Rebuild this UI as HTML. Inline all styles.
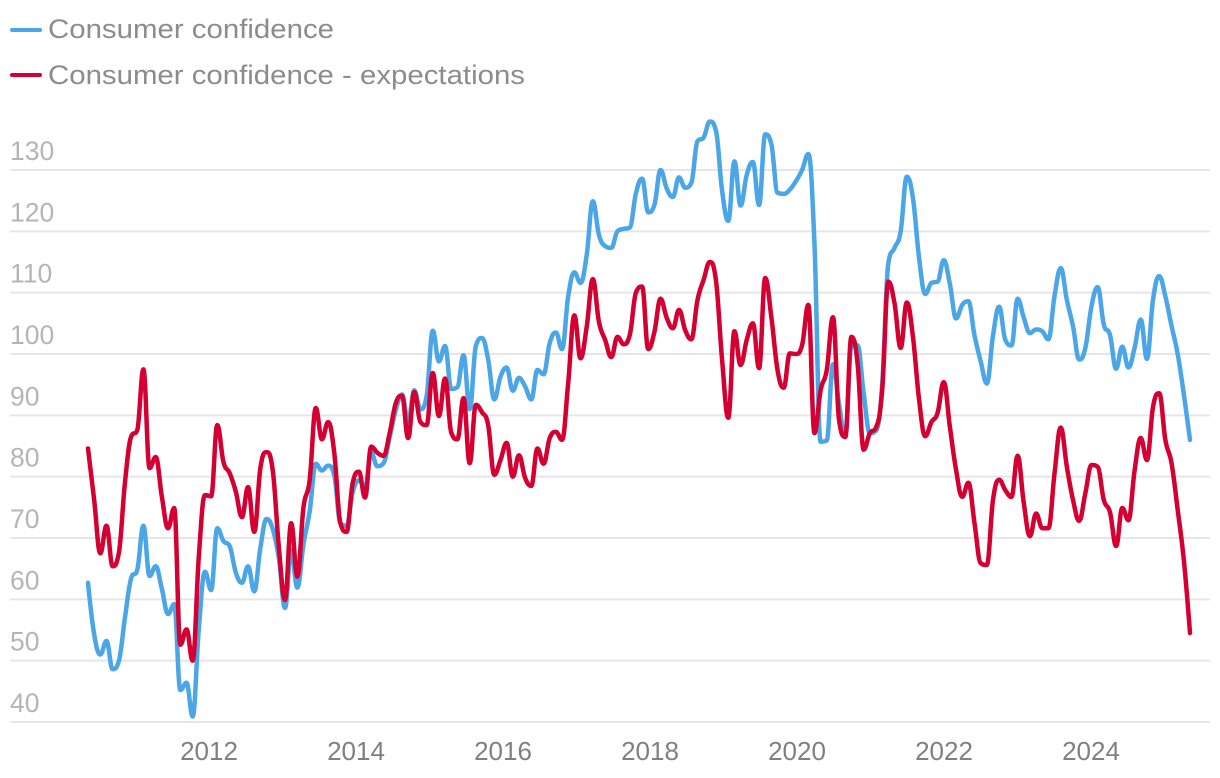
<!DOCTYPE html>
<html lang="en">
<head>
<meta charset="utf-8">
<title>Consumer confidence</title>
<style>
html,body{margin:0;padding:0;background:#fff;}
svg{display:block;font-family:"Liberation Sans",sans-serif;}
</style>
</head>
<body>
<svg id="chart" width="1220" height="778" viewBox="0 0 1220 778" xmlns="http://www.w3.org/2000/svg">
  <g>
    <g>
      <line x1="12" y1="30" x2="40" y2="30" stroke="#4ba6e8" stroke-width="4" stroke-linecap="round"/>
      <text x="48" y="38" font-size="26.5" fill="#8c8c8c" textLength="286" lengthAdjust="spacingAndGlyphs">Consumer confidence</text>
    </g>
    <g>
      <line x1="12" y1="75" x2="40" y2="75" stroke="#d40032" stroke-width="4" stroke-linecap="round"/>
      <text x="48" y="84" font-size="26.5" fill="#8c8c8c" textLength="477" lengthAdjust="spacingAndGlyphs">Consumer confidence - expectations</text>
    </g>
  </g>
  <g id="grid"></g>
  <g id="yticks"></g>
  <g id="xticks"></g>
  <g id="series"></g>
</svg>
<script>
var yTickValues = [40, 50, 60, 70, 80, 90, 100, 110, 120, 130];
var xTickYears = [2012, 2014, 2016, 2018, 2020, 2022, 2024];
var seriesConfidence = [
62.7,54.3,51.0,53.2,48.6,49.9,57.0,63.4,
64.8,72.0,63.8,65.4,61.7,57.6,59.2,45.2,46.4,40.9,55.2,64.5,
61.5,71.6,69.5,68.7,64.4,62.7,65.4,61.3,68.4,73.1,71.5,66.7,
58.6,68.0,61.9,69.0,74.3,82.1,81.0,81.8,80.2,72.4,72.0,77.5,
79.4,78.3,83.9,81.7,82.2,86.4,90.9,93.4,89.0,94.1,91.0,93.1,
103.8,98.8,101.3,94.3,94.6,99.8,91.0,101.3,102.6,99.1,92.6,96.3,
97.8,94.0,96.1,94.7,92.6,97.4,96.7,101.8,103.5,100.8,109.4,113.3,
111.6,116.1,124.9,119.4,117.6,117.3,120.0,120.4,120.6,126.2,128.6,123.1,
124.3,130.0,127.0,125.6,128.8,127.1,127.9,134.7,135.3,137.9,136.4,126.6,
121.7,131.4,124.2,129.2,131.3,124.3,135.8,134.2,126.3,126.1,126.8,128.2,
130.0,132.6,118.0,85.7,85.9,98.3,91.8,86.4,101.3,101.4,93.5,87.1,
87.5,95.0,114.8,117.3,120.0,128.9,125.4,115.6,109.8,111.6,111.8,115.3,
111.4,105.8,108.0,108.6,103.0,98.8,95.2,103.0,107.7,102.3,101.4,109.0,
105.9,103.4,104.0,103.7,102.4,109.5,114.0,108.8,104.5,99.1,101.0,107.8,
110.9,104.8,103.1,97.6,101.2,97.8,101.0,105.6,99.2,108.9,112.7,109.4,
104.6,100.0,93.4,86.0
];
var seriesExpectations = [
84.6,76.2,67.5,72.0,65.4,67.5,79.0,86.5,
87.6,97.5,81.4,83.2,76.7,71.6,74.9,52.6,55.1,50.0,67.0,77.0,
76.8,88.4,82.4,80.6,77.6,73.4,78.3,71.0,81.4,84.0,81.1,68.5,
59.9,72.4,63.7,75.0,79.4,91.2,86.1,88.9,83.9,72.4,71.0,79.0,
80.8,76.6,84.9,83.9,83.4,87.1,92.0,93.2,86.3,93.8,88.9,88.4,
96.9,89.9,96.0,87.2,86.1,92.8,82.2,91.7,90.5,88.4,80.3,82.7,
85.5,80.0,83.5,79.8,78.5,84.6,82.1,86.3,87.3,86.0,95.3,106.3,
99.3,104.4,112.2,105.2,102.3,99.5,102.8,101.6,103.1,110.0,111.0,100.8,
103.6,109.0,105.9,104.2,107.2,103.9,102.4,108.8,112.1,115.0,112.0,99.0,
89.6,103.7,98.2,102.3,105.0,97.7,112.4,106.0,97.4,94.5,100.1,100.0,
101.5,108.0,87.1,94.1,97.4,106.0,89.2,86.5,102.8,98.5,84.4,87.1,
88.0,94.1,111.8,108.3,101.0,108.4,102.8,92.5,86.6,88.9,90.4,95.4,
88.1,81.1,76.7,79.0,72.4,65.9,65.6,76.2,79.5,77.8,76.7,83.4,
75.7,70.3,74.0,71.6,71.6,80.6,88.0,81.6,76.2,72.8,77.3,81.9,
81.6,76.2,74.2,68.7,74.9,72.9,81.0,86.3,82.7,91.4,93.6,86.0,
82.2,74.6,66.4,54.5
];

var svgNS = 'http://www.w3.org/2000/svg';
var grid = document.getElementById('grid');
var yticks = document.getElementById('yticks');
var xticks = document.getElementById('xticks');
var seriesGroup = document.getElementById('series');

function yScale(v) { return 722 - (v - 40) * (552 / 90); }
function xScale(i) { return 88 + i * (1102 / 179); }
function yearLabelX(year) { return 209 + (year - 2012) * 73.5; }

yTickValues.forEach(function (v) {
  var line = document.createElementNS(svgNS, 'line');
  
  
  line.setAttribute('x1', 10);
  line.setAttribute('x2', 1210);
  line.setAttribute('y1', yScale(v));
  line.setAttribute('y2', yScale(v));
  line.setAttribute('stroke', '#e6e6e6');
  line.setAttribute('stroke-width', 2);
  grid.appendChild(line);

  var label = document.createElementNS(svgNS, 'text');
  
  
  label.setAttribute('x', 10);
  label.setAttribute('y', yScale(v) - 10);
  label.setAttribute('font-size', 26.5);
  label.setAttribute('fill', '#b5b5b5');
  label.textContent = v;
  yticks.appendChild(label);
});

xTickYears.forEach(function (yr) {
  var label = document.createElementNS(svgNS, 'text');
  
  
  label.setAttribute('x', yearLabelX(yr));
  label.setAttribute('y', 760);
  label.setAttribute('font-size', 26);
  label.setAttribute('fill', '#808080');
  label.setAttribute('text-anchor', 'middle');
  label.textContent = yr;
  xticks.appendChild(label);
});

function splinePath(values) {
  var s = 1.5, d = s + 1;
  var pts = values.map(function (v, i) { return [xScale(i), yScale(v)]; });
  function controls(i) {
    var p = pts[i], a = pts[i - 1], b = pts[i + 1];
    if (!a || !b) return [p[0], p[1], p[0], p[1]];
    var lx = (s * p[0] + a[0]) / d, ly = (s * p[1] + a[1]) / d;
    var rx = (s * p[0] + b[0]) / d, ry = (s * p[1] + b[1]) / d;
    var corr = ((ry - ly) * (rx - p[0])) / (rx - lx) + p[1] - ry;
    ly += corr; ry += corr;
    if (ly > a[1] && ly > p[1]) { ly = Math.max(a[1], p[1]); ry = 2 * p[1] - ly; }
    else if (ly < a[1] && ly < p[1]) { ly = Math.min(a[1], p[1]); ry = 2 * p[1] - ly; }
    if (ry > b[1] && ry > p[1]) { ry = Math.max(b[1], p[1]); ly = 2 * p[1] - ry; }
    else if (ry < b[1] && ry < p[1]) { ry = Math.min(b[1], p[1]); ly = 2 * p[1] - ry; }
    return [lx, ly, rx, ry];
  }
  var path = 'M' + pts[0][0].toFixed(2) + ' ' + pts[0][1].toFixed(2);
  for (var i = 1; i < pts.length; i++) {
    var c0 = controls(i - 1), c1 = controls(i);
    path += 'C' + c0[2].toFixed(2) + ' ' + c0[3].toFixed(2) + ' ' +
            c1[0].toFixed(2) + ' ' + c1[1].toFixed(2) + ' ' +
            pts[i][0].toFixed(2) + ' ' + pts[i][1].toFixed(2);
  }
  return path;
}

var blueLine = document.createElementNS(svgNS, 'path');


blueLine.setAttribute('d', splinePath(seriesConfidence));
blueLine.setAttribute('fill', 'none');
blueLine.setAttribute('stroke', '#4ba6e8');
blueLine.setAttribute('stroke-width', 4.5);
blueLine.setAttribute('stroke-linejoin', 'round');
blueLine.setAttribute('stroke-linecap', 'round');
seriesGroup.appendChild(blueLine);

var redLine = document.createElementNS(svgNS, 'path');


redLine.setAttribute('d', splinePath(seriesExpectations));
redLine.setAttribute('fill', 'none');
redLine.setAttribute('stroke', '#d40032');
redLine.setAttribute('stroke-width', 4.5);
redLine.setAttribute('stroke-linejoin', 'round');
redLine.setAttribute('stroke-linecap', 'round');
seriesGroup.appendChild(redLine);
</script>
</body>
</html>
